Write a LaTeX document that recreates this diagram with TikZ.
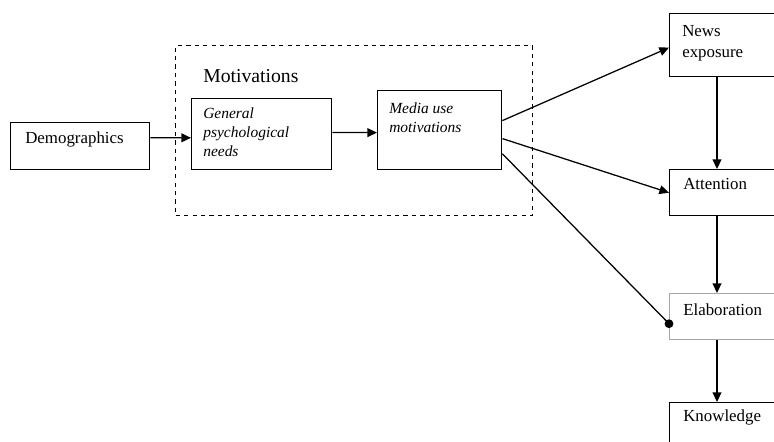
\documentclass[tikz,border=0pt]{standalone}
\usepackage{fontspec}
\setmainfont{Liberation Serif}
\usetikzlibrary{arrows.meta}

\tikzset{
    box/.style={draw, line width=1pt, anchor=north west, inner sep=0pt},
    txt/.style={anchor=base west, inner sep=0pt, align=left, font=\fontsize{12}{14.5}\selectfont},
    itxt/.style={txt, font=\fontsize{11}{13.5}\selectfont\itshape},
    arr/.style={line width=0.9pt, -{Triangle[length=2.4mm, width=2.2mm]}},
}

\begin{document}
\begin{tikzpicture}[x=0.025cm, y=-0.025cm]
    \useasboundingbox (0,0) rectangle (774,441);
    \clip (0,0) rectangle (774,441);

    % motivations group
    \node[box, dashed, line width=0.9pt, minimum width=357*0.025cm, minimum height=170*0.025cm] (motiv) at (175,45) {};
    \node[txt, font=\fontsize{14}{17}\selectfont] (motivt) at (203,82) {Motivations};

    \node[box, minimum width=139*0.025cm, minimum height=47*0.025cm] (demo) at (10,122) {};
    \node[txt] (demot) at (25,143) {Demographics};
    \node[box, minimum width=140*0.025cm, minimum height=71*0.025cm] (gen) at (191,98) {};
    \node[itxt] (gent) at (203,156) {General\\psychological\\needs};
    \node[box, minimum width=124*0.025cm, minimum height=79*0.025cm] (media) at (377,90) {};
    \node[itxt] (mediat) at (389,132) {Media use\\motivations};

    % outcome column
    \node[box, minimum width=131*0.025cm, minimum height=63*0.025cm] (news) at (669,13) {};
    \node[txt] (newst) at (682,57) {News\\exposure};
    \node[box, minimum width=131*0.025cm, minimum height=46*0.025cm] (att) at (669,169) {};
    \node[txt] (attt) at (683,189) {Attention};
    \node[box, draw=gray!70, minimum width=131*0.025cm, minimum height=46*0.025cm] (elab) at (669,293) {};
    \node[txt] (elabt) at (683,315) {Elaboration};
    \node[box, minimum width=131*0.025cm, minimum height=60*0.025cm] (know) at (669,402) {};
    \node[txt] (knowt) at (683,421) {Knowledge};

    \coordinate (col) at (717,0);
    \foreach \a/\b in {news/att, att/elab, elab/know}
        \draw[arr] (\a.south -| col) -- (\b.north -| col);

    \draw[arr] ([yshift=0.21cm]demo.east) -- ([yshift=-0.09cm]gen.west);
    \draw[arr] ([yshift=0.04cm]gen.east) -- ([yshift=-0.06cm]media.west);

    \draw[arr] ([yshift=0.24cm]media.east) -- ([yshift=-0.06cm]news.west);
    \draw[arr] ([yshift=-0.21cm]media.east) -- (att.west);
    \draw[line width=0.9pt] ([yshift=-0.59cm]media.east) -- ([yshift=-0.175cm]elab.west) coordinate (dot);
    \fill (dot) circle (0.11cm);
\end{tikzpicture}
\end{document}
